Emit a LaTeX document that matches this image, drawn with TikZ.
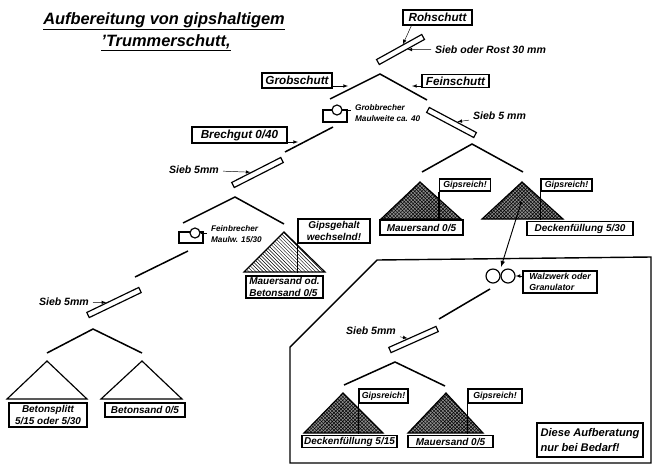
\documentclass[tikz,border=0pt]{standalone}
\usepackage{fontspec}
\setsansfont{Liberation Sans}
\usetikzlibrary{patterns,calc}

\begin{document}
\begin{tikzpicture}[x=0.03cm,y=-0.03cm,>=latex,
	hand/.style={font=\sffamily\bfseries\itshape\fontsize{9}{10}\selectfont},
	handsm/.style={font=\sffamily\bfseries\itshape\fontsize{7}{10}\selectfont},
	lbl/.style={draw,line width=1pt,inner sep=1pt,font=\sffamily\bfseries\itshape\fontsize{8.5}{10}\selectfont},
	lblbig/.style={lbl,font=\sffamily\bfseries\itshape\fontsize{10}{11}\selectfont},
	lblsm/.style={lbl,font=\sffamily\bfseries\itshape\fontsize{7.5}{9}\selectfont},
	sieb/.style={draw,line width=1pt,minimum height=0.17cm,inner sep=0pt},
	branch/.style={line width=1.3pt},
	pile/.style={draw,line width=1pt},
	gips/.style={pile,fill=black!45,postaction={pattern=crosshatch}},
	hatch/.style={pile,pattern=north west lines},
	crusher/.style={draw,line width=1pt,inner sep=0pt},
	roll/.style={circle,draw,line width=1pt,fill=white,inner sep=0pt,minimum size=0.33cm}]
	\useasboundingbox (0,0) rectangle (657,469);
	
	\node[font=\sffamily\bfseries\itshape\fontsize{14}{16}\selectfont] (titel1) at (164,21) {\underline{Aufbereitung von gipshaltigem}};
	\node[font=\sffamily\bfseries\itshape\fontsize{14}{16}\selectfont] (titel2) at (166,43) {\underline{'Trummerschutt,}};
	
	% Rohschutt -> Sieb 30 mm
	\node[lblbig,minimum width=2.07cm,minimum height=0.45cm] (roh) at (437.5,17.5) {Rohschutt};
	\node[sieb,minimum width=1.55cm,rotate=29] (sieb1) at (400.5,49.5) {};
	\node[hand,anchor=west] (sieb1txt) at (431,50) {Sieb oder Rost 30 mm};
	\draw[->] ($(roh.south west)+(9,0)$) -- (sieb1);
	\draw[->] (sieb1txt) -- (sieb1);
	\draw[branch] (330,99) -- (380,74) -- (427,100);
	
	\node[lblbig,minimum width=2.1cm,minimum height=0.45cm] (grob) at (297,80.5) {Grobschutt};
	\node[lblbig,minimum width=2.01cm,minimum height=0.4cm] (fein) at (455.5,81) {Feinschutt};
	\coordinate (grobpfeil) at (348,86);
	\coordinate (feinpfeil) at (412,86);
	\draw[->] (grob.east |- grobpfeil) -- (grobpfeil);
	\draw[->] (fein.west |- feinpfeil) -- (feinpfeil);
	
	% Grobbrecher
	\node[crusher,minimum width=0.72cm,minimum height=0.36cm] (gb) at (335,116) {};
	\node[roll,minimum size=0.3cm] (gbrad) at (337,110) {};
	\node[handsm,anchor=west,align=left] (gbtxt) at (351,113) {Grobbrecher\\Maulweite ca. 40};
	\draw (gbrad.east) -- (gbrad.east -| gbtxt.west);
	\coordinate (gbout) at (333,127);
	\coordinate (sieb2in) at (285,152);
	\draw[branch] (gbout) -- (sieb2in);
	
	\node[lblbig,minimum width=2.85cm,minimum height=0.48cm] (brech) at (239.5,135) {Brechgut 0/40};
	\coordinate (brechpfeil) at (298,142);
	\draw[->] (brech.east |- brechpfeil) -- (brechpfeil);
	
	\node[sieb,minimum width=1.65cm,rotate=27] (sieb2) at (257.5,172.5) {};
	\node[hand,anchor=east] (sieb2txt) at (223,170) {Sieb 5mm};
	\draw[->] (sieb2txt) -- (sieb2);
	\draw[branch] (183,223) -- (235,197) -- (284,224);
	
	% Feinbrecher
	\node[crusher,minimum width=0.72cm,minimum height=0.33cm] (fb) at (191,237.5) {};
	\node[roll,minimum size=0.3cm] (fbrad) at (195,233) {};
	\node[handsm,anchor=west,align=left] (fbtxt) at (207,234) {Feinbrecher\\Maulw. 15/30};
	\draw (fbrad.east) -- (fbrad.east -| fbtxt.west);
	\coordinate (fbout) at (188,251);
	\coordinate (sieb3in) at (135,277);
	\draw[branch] (fbout) -- (sieb3in);
	
	\draw[hatch] (244,272) -- (284,232) -- (325,272) -- cycle;
	\node[lbl,minimum width=2.16cm,minimum height=0.72cm,align=center] (gg) at (334,231) {Gipsgehalt\\wechselnd!};
	\draw[line width=1pt] (gg.south west) -- ++(0,29);
	\node[lbl,minimum width=2.31cm,minimum height=0.66cm,align=left] (mbs) at (284.5,287) {Mauersand od.\\Betonsand 0/5};
	
	\node[sieb,minimum width=1.73cm,rotate=25.7] (sieb3) at (114,302.5) {};
	\node[hand,anchor=east] (sieb3txt) at (93,302) {Sieb 5mm};
	\draw[->] (sieb3txt) -- (sieb3);
	\draw[branch] (47,353) -- (93,329) -- (142,353);
	\draw[pile] (7,399) -- (47,361) -- (87,399) -- cycle;
	\draw[pile] (101,399) -- (142,361) -- (182,399) -- cycle;
	\node[lbl,minimum width=2.34cm,minimum height=0.72cm,align=center] (bsplitt) at (48,415) {Betonsplitt\\5/15 oder 5/30};
	\node[lbl,minimum width=2.4cm,minimum height=0.42cm] (bsand) at (145,410) {Betonsand 0/5};
	
	% Feinschutt -> Sieb 5 mm
	\node[sieb,minimum width=1.6cm,rotate=-28] (sieb4) at (451.5,122.5) {};
	\node[hand,anchor=west] (sieb4txt) at (469,116) {Sieb 5 mm};
	\draw[->] (sieb4txt) -- (sieb4);
	\draw[branch] (422,172) -- (472,144) -- (523,172);
	\draw[gips] (381,219) -- (420,182) -- (461,219) -- cycle;
	\draw[gips] (482,219) -- (522,182) -- (563,219) -- cycle;
	\node[lblsm,minimum width=1.53cm,minimum height=0.36cm] (gr1) at (465,185) {Gipsreich!};
	\node[lblsm,minimum width=1.53cm,minimum height=0.36cm] (gr2) at (566.5,185) {Gipsreich!};
	\draw[line width=1pt] (gr1.south west) -- ++(0,28);
	\draw[line width=1pt] (gr2.south west) -- ++(0,28);
	\node[lbl,minimum width=2.49cm,minimum height=0.45cm] (ms1) at (421.5,227.5) {Mauersand 0/5};
	\node[lbl,minimum width=3.18cm,minimum height=0.4cm] (df1) at (580,228.5) {Deckenfüllung 5/30};
	
	% nur bei Bedarf
	\draw[line width=1.2pt] (290,463) -- (290,347) -- (377,260) -- (651,257) -- (651,463) -- cycle;
	\node[roll,minimum size=0.42cm] (wz1) at (493,276) {};
	\node[roll,minimum size=0.42cm] (wz2) at (508,276) {};
	\coordinate (wzstart) at (521,203);
	\coordinate (wzend) at (501,267);
	\fill (wzstart) circle (1.5);
	\draw[->,line width=0.8pt] (wzstart) -- (wzend);
	\node[lbl,font=\sffamily\bfseries\itshape\fontsize{7.5}{9.5}\selectfont,minimum width=2.22cm,minimum height=0.66cm,align=left] (walz) at (560,282) {Walzwerk oder\\Granulator};
	\draw[->] (walz.west |- wz2) -- (wz2);
	\coordinate (wzout) at (490,289);
	\coordinate (sieb5in) at (439,319);
	\draw[branch] (wzout) -- (sieb5in);
	
	\node[sieb,minimum width=1.55cm,rotate=24] (sieb5) at (413.5,339.5) {};
	\node[hand,anchor=east] (sieb5txt) at (400,331) {Sieb 5mm};
	\draw[->] (sieb5txt) -- (sieb5);
	\draw[branch] (344,385) -- (395,362) -- (445,386);
	\draw[gips] (304,433) -- (343,393) -- (383,433) -- cycle;
	\draw[gips] (408,433) -- (446,393) -- (483,433) -- cycle;
	\node[lblsm,minimum width=1.47cm,minimum height=0.42cm] (gr3) at (383.5,396) {Gipsreich!};
	\node[lblsm,minimum width=1.62cm,minimum height=0.42cm] (gr4) at (495,396) {Gipsreich!};
	\draw[line width=1pt] (gr3.south west) -- ++(0,30);
	\draw[line width=1pt] (gr4.south west) -- ++(0,30);
	\node[lbl,minimum width=2.85cm,minimum height=0.36cm] (df2) at (349.5,441.5) {Deckenfüllung 5/15};
	\node[lbl,minimum width=2.55cm,minimum height=0.36cm] (ms2) at (450.5,441.5) {Mauersand 0/5};
	\node[lbl,font=\sffamily\bfseries\itshape\fontsize{9.5}{12}\selectfont,minimum width=3.18cm,minimum height=1.02cm,align=left] (bedarf) at (590,440) {Diese Aufberatung\\nur bei Bedarf!};
\end{tikzpicture}
\end{document}
